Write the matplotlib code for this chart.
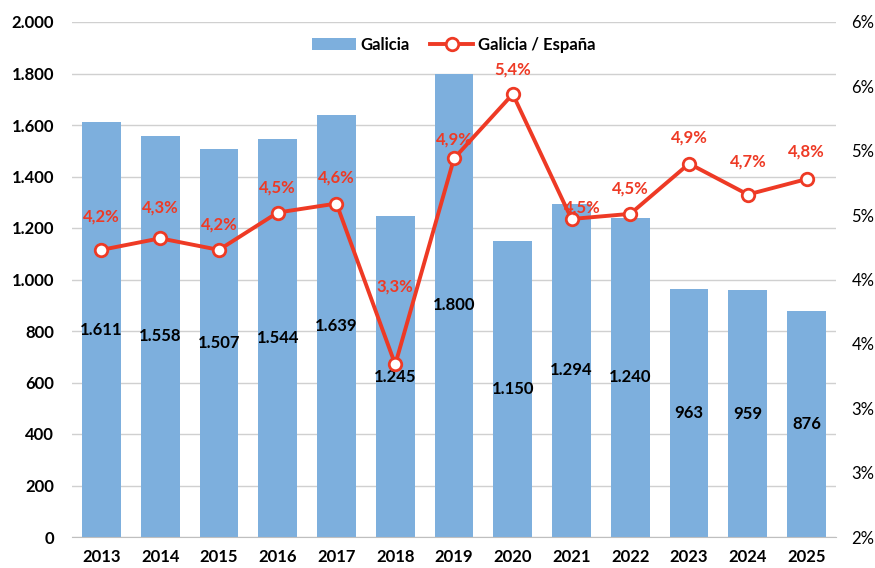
import numpy as np
import matplotlib.pyplot as plt
from matplotlib.ticker import FixedLocator, FuncFormatter

plt.rcParams['font.family'] = ['Lato', 'DejaVu Sans']

# datos
years = ['2013', '2014', '2015', '2016', '2017', '2018', '2019',
         '2020', '2021', '2022', '2023', '2024', '2025']
galicia = [1611, 1558, 1507, 1544, 1639, 1245, 1800, 1150, 1294, 1240, 963, 959, 876]
ratio = [4.23, 4.32, 4.23, 4.52, 4.59, 3.34, 4.94, 5.44, 4.47, 4.51, 4.90, 4.66, 4.78]

# desplazamiento de las etiquetas de la linea (puntos)
label_dy = [24, 22, 18, 18, 19, 56, 14, 18, 8, 18, 19, 24, 20]
label_dx = [0, 0, 0, 0, 0, 0, 0, 0, 8, 0, 0, 0, 0]

bar_color = '#7DAFDD'
red = '#EE3A25'

fig = plt.figure(figsize=(8.75, 5.68), dpi=100)
ax = fig.add_axes([72 / 875, 1 - 537 / 568, 764 / 875, 515 / 568])
x = np.arange(len(years))

bars = ax.bar(x, galicia, width=0.66, color=bar_color, label='Galicia', zorder=2)
for xi, v in zip(x, galicia):
    ax.text(xi, v / 2, f'{v:,}'.replace(',', '.'), ha='center', va='center',
            fontsize=12, fontweight='bold', color='black', zorder=5)

ax.set_xlim(-0.5, len(years) - 0.5)
ax.set_ylim(0, 2000)
ax.yaxis.set_major_locator(FixedLocator(range(0, 2001, 200)))
ax.yaxis.set_major_formatter(FuncFormatter(lambda v, p: f'{int(v):,}'.replace(',', '.')))
ax.set_xticks(x)
ax.set_xticklabels(years)
ax.grid(axis='y', color='#D0D0D0', linewidth=1, zorder=0)
ax.set_axisbelow(True)
for s in ['top', 'right', 'left']:
    ax.spines[s].set_visible(False)
ax.spines['bottom'].set_color('#BFBFBF')
ax.tick_params(axis='both', length=0, labelsize=12)
ax.tick_params(axis='y', pad=13)
ax.tick_params(axis='x', pad=9)
for t in ax.get_xticklabels() + ax.get_yticklabels():
    t.set_fontweight('bold')

ax2 = ax.twinx()
ax2.set_ylim(2, 6)
ax2.yaxis.set_major_locator(FixedLocator(np.arange(2, 6.01, 0.5)))
ax2.yaxis.set_major_formatter(FuncFormatter(lambda v, p: f'{int(v + 0.5)}%'))
for s in ['top', 'right', 'left', 'bottom']:
    ax2.spines[s].set_visible(False)
ax2.tick_params(axis='y', length=0, labelsize=12, pad=11)

line, = ax2.plot(x, ratio, color=red, linewidth=2.8, marker='o', markersize=9,
                 markerfacecolor='white', markeredgecolor=red, markeredgewidth=2,
                 label='Galicia / España', zorder=4)
for xi, v, dy, dx in zip(x, ratio, label_dy, label_dx):
    ax2.annotate(f'{v:.1f}%'.replace('.', ','), (xi, v), xytext=(dx, dy),
                 textcoords='offset points', ha='center', va='center',
                 fontsize=12, fontweight='bold', color=red, zorder=6)

leg = ax2.legend([bars, line], ['Galicia', 'Galicia / España'], loc='upper center',
                 bbox_to_anchor=(0.5, 1.0), ncol=2, frameon=False,
                 prop={'weight': 'bold', 'size': 12}, handlelength=2.6,
                 columnspacing=1.2, handletextpad=0.3)

fig.savefig('out.png', dpi=100)
